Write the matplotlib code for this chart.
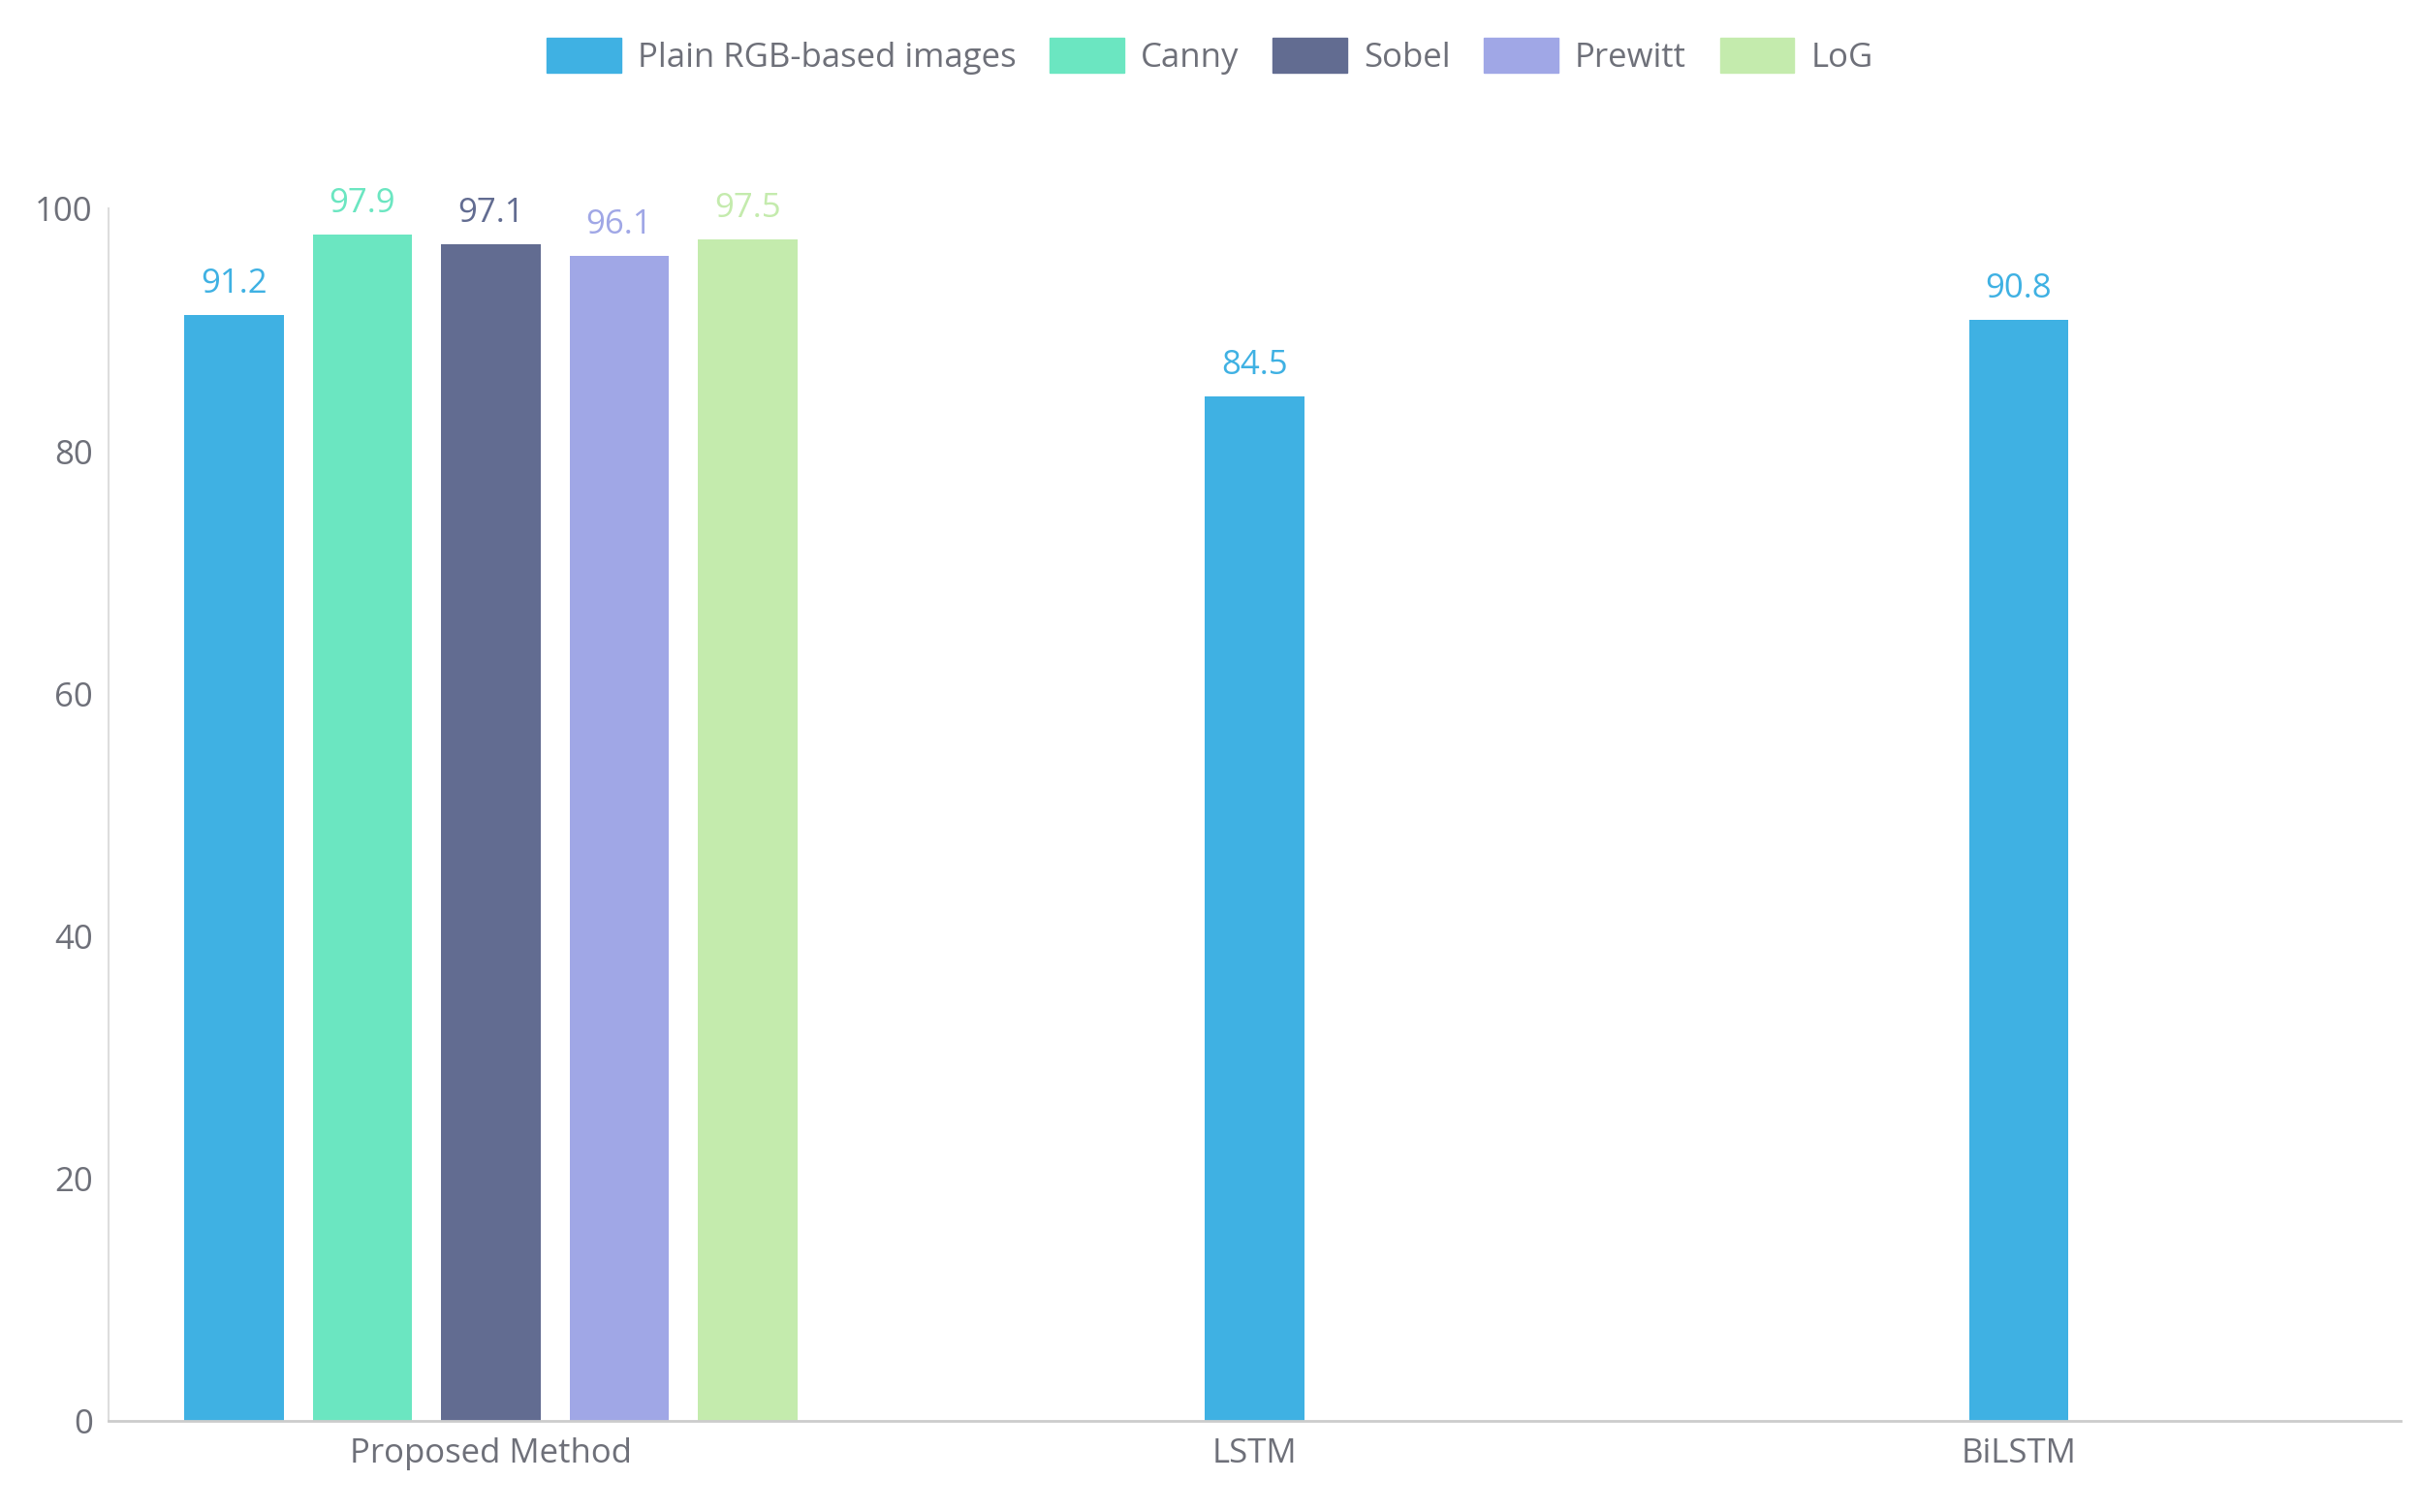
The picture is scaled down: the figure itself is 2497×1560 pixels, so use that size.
import numpy as np
import matplotlib.pyplot as plt
from matplotlib.patches import FancyBboxPatch, Patch

plt.rcParams['font.family'] = ['Open Sans', 'DejaVu Sans']

# === DATA ===
categories = ["Proposed Method", "LSTM", "BiLSTM"]
series = ["Plain RGB-based images", "Canny", "Sobel", "Prewitt", "LoG"]
proposed_vals = [91.2, 97.9, 97.1, 96.1, 97.5]
rgb_other = [84.5, 90.8]  # LSTM, BiLSTM (plain RGB only)
colors = ["#3fb1e3", "#6be6c1", "#626c91", "#a0a7e6", "#c4ebad"]

fig = plt.figure(figsize=(24.97, 15.60), dpi=100)
ax = fig.add_axes([0.045, 0.06, 0.947, 0.802])

width = 0.13
step = 0.168
x0 = np.arange(len(series)) * step - 2 * step
for i, (name, v, c) in enumerate(zip(series, proposed_vals, colors)):
    ax.bar(x0[i], v, width=width, color=c)
    ax.text(x0[i], v + 1.2, f"{v}", ha="center", va="bottom", color=c, fontsize=25)
for j, v in enumerate(rgb_other):
    ax.bar(j + 1, v, width=width, color=colors[0])
    ax.text(j + 1, v + 1.2, f"{v}", ha="center", va="bottom", color=colors[0], fontsize=25)

ax.set_xlim(-0.5, 2.5)
ax.set_ylim(0, 100)
ax.set_xticks(range(3))
ax.set_xticklabels(categories)
ax.set_yticks(range(0, 101, 20))
ax.tick_params(axis="both", colors="#6e7079", labelsize=25, length=0, pad=12)
for s in ["top", "right"]:
    ax.spines[s].set_visible(False)
ax.spines["left"].set_color("#dddddd")
ax.spines["bottom"].set_color("#cccccc")
ax.spines["left"].set_linewidth(1.5)
ax.spines["bottom"].set_linewidth(2)

handles = [Patch(facecolor=c, edgecolor=c, label=n) for n, c in zip(series, colors)]
leg = fig.legend(handles=handles, loc="upper center", bbox_to_anchor=(0.5, 0.995),
                 ncol=5, frameon=False, fontsize=25, handlelength=2.2, handleheight=1.2,
                 columnspacing=1.0, handletextpad=0.5)
for t in leg.get_texts():
    t.set_color("#6e7079")

fig.savefig("out.png", dpi=100)
